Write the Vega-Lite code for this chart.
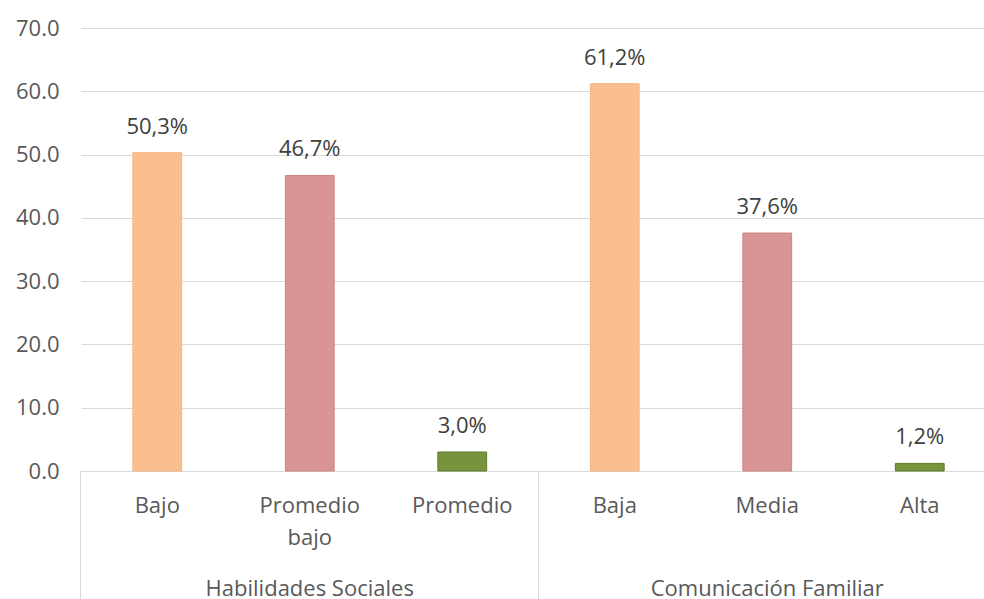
{
  "$schema": "https://vega.github.io/schema/vega-lite/v6.json",
  "autosize": {"type": "none"},
  "width": 915,
  "height": 443,
  "padding": {"left": 81, "top": 28, "right": 0, "bottom": 128},
  "background": "white",
  "config": {
    "view": {"stroke": null},
    "font": "Open Sans",
    "axis": {"labelFont": "Open Sans", "labelFontSize": 22, "labelColor": "#595959"}
  },
  "datasets": {
    "bars": [
      {"grupo": "Habilidades Sociales", "categoria": "Bajo", "valor": 50.3},
      {"grupo": "Habilidades Sociales", "categoria": "Promedio bajo", "valor": 46.7},
      {"grupo": "Habilidades Sociales", "categoria": "Promedio", "valor": 3.0},
      {"grupo": "Comunicación Familiar", "categoria": "Baja", "valor": 61.2},
      {"grupo": "Comunicación Familiar", "categoria": "Media", "valor": 37.6},
      {"grupo": "Comunicación Familiar", "categoria": "Alta", "valor": 1.2}
    ],
    "grupos": [
      {"grupo": "Habilidades Sociales", "centro": "Promedio bajo"},
      {"grupo": "Comunicación Familiar", "centro": "Media"}
    ]
  },
  "layer": [
    {
      "data": {"name": "bars"},
      "mark": {"type": "bar", "strokeWidth": 1},
      "encoding": {
        "x": {
          "field": "categoria", "type": "nominal", "sort": null,
          "scale": {"domain": ["Bajo", "Promedio bajo", "Promedio", "Baja", "Media", "Alta"], "paddingInner": 0.68, "paddingOuter": 0.34},
          "axis": {
            "title": null, "labelAngle": 0,
            "labelExpr": "split(datum.label, ' ')",
            "labelLineHeight": 32,
            "labelBaseline": "top",
            "domainColor": "#d9d9d9", "domainWidth": 1,
            "bandPosition": -1.0625,
            "tickSize": 130,
            "tickWidth": 1,
            "tickColor": {"condition": {"test": "datum.value === 'Bajo' || datum.value === 'Baja'", "value": "#d9d9d9"}, "value": "transparent"},
            "labelPadding": -106,
            "grid": false
          }
        },
        "y": {
          "field": "valor", "type": "quantitative",
          "scale": {"domain": [0, 70], "nice": false},
          "axis": {
            "title": null, "values": [0, 10, 20, 30, 40, 50, 60, 70], "format": ".1f",
            "domain": false, "ticks": false, "labelPadding": 22,
            "gridColor": "#d9d9d9", "gridWidth": 1
          }
        },
        "color": {
          "field": "categoria", "type": "nominal", "legend": null,
          "scale": {"domain": ["Bajo", "Promedio bajo", "Promedio", "Baja", "Media", "Alta"], "range": ["#F9BF8F", "#D99594", "#77933C", "#F9BF8F", "#D99594", "#77933C"]}
        },
        "stroke": {
          "field": "categoria", "type": "nominal", "legend": null,
          "scale": {"domain": ["Bajo", "Promedio bajo", "Promedio", "Baja", "Media", "Alta"], "range": ["#F6B585", "#CF8483", "#5F7A2E", "#F6B585", "#CF8483", "#5F7A2E"]}
        }
      }
    },
    {
      "data": {"name": "bars"},
      "transform": [{"calculate": "replace(format(datum.valor, '.1f'), '.', ',') + '%'", "as": "etiqueta"}],
      "mark": {"type": "text", "baseline": "middle", "dy": -26, "fontSize": 22, "font": "Open Sans", "color": "#404040"},
      "encoding": {
        "x": {"field": "categoria", "type": "nominal", "sort": null},
        "y": {"field": "valor", "type": "quantitative"},
        "text": {"field": "etiqueta", "type": "nominal"}
      }
    },
    {
      "data": {"name": "grupos"},
      "mark": {"type": "text", "baseline": "middle", "fontSize": 22, "font": "Open Sans", "color": "#595959"},
      "encoding": {
        "x": {"field": "centro", "type": "nominal", "sort": null},
        "y": {"datum": -18.7, "type": "quantitative"},
        "text": {"field": "grupo", "type": "nominal"}
      }
    }
  ]
}
